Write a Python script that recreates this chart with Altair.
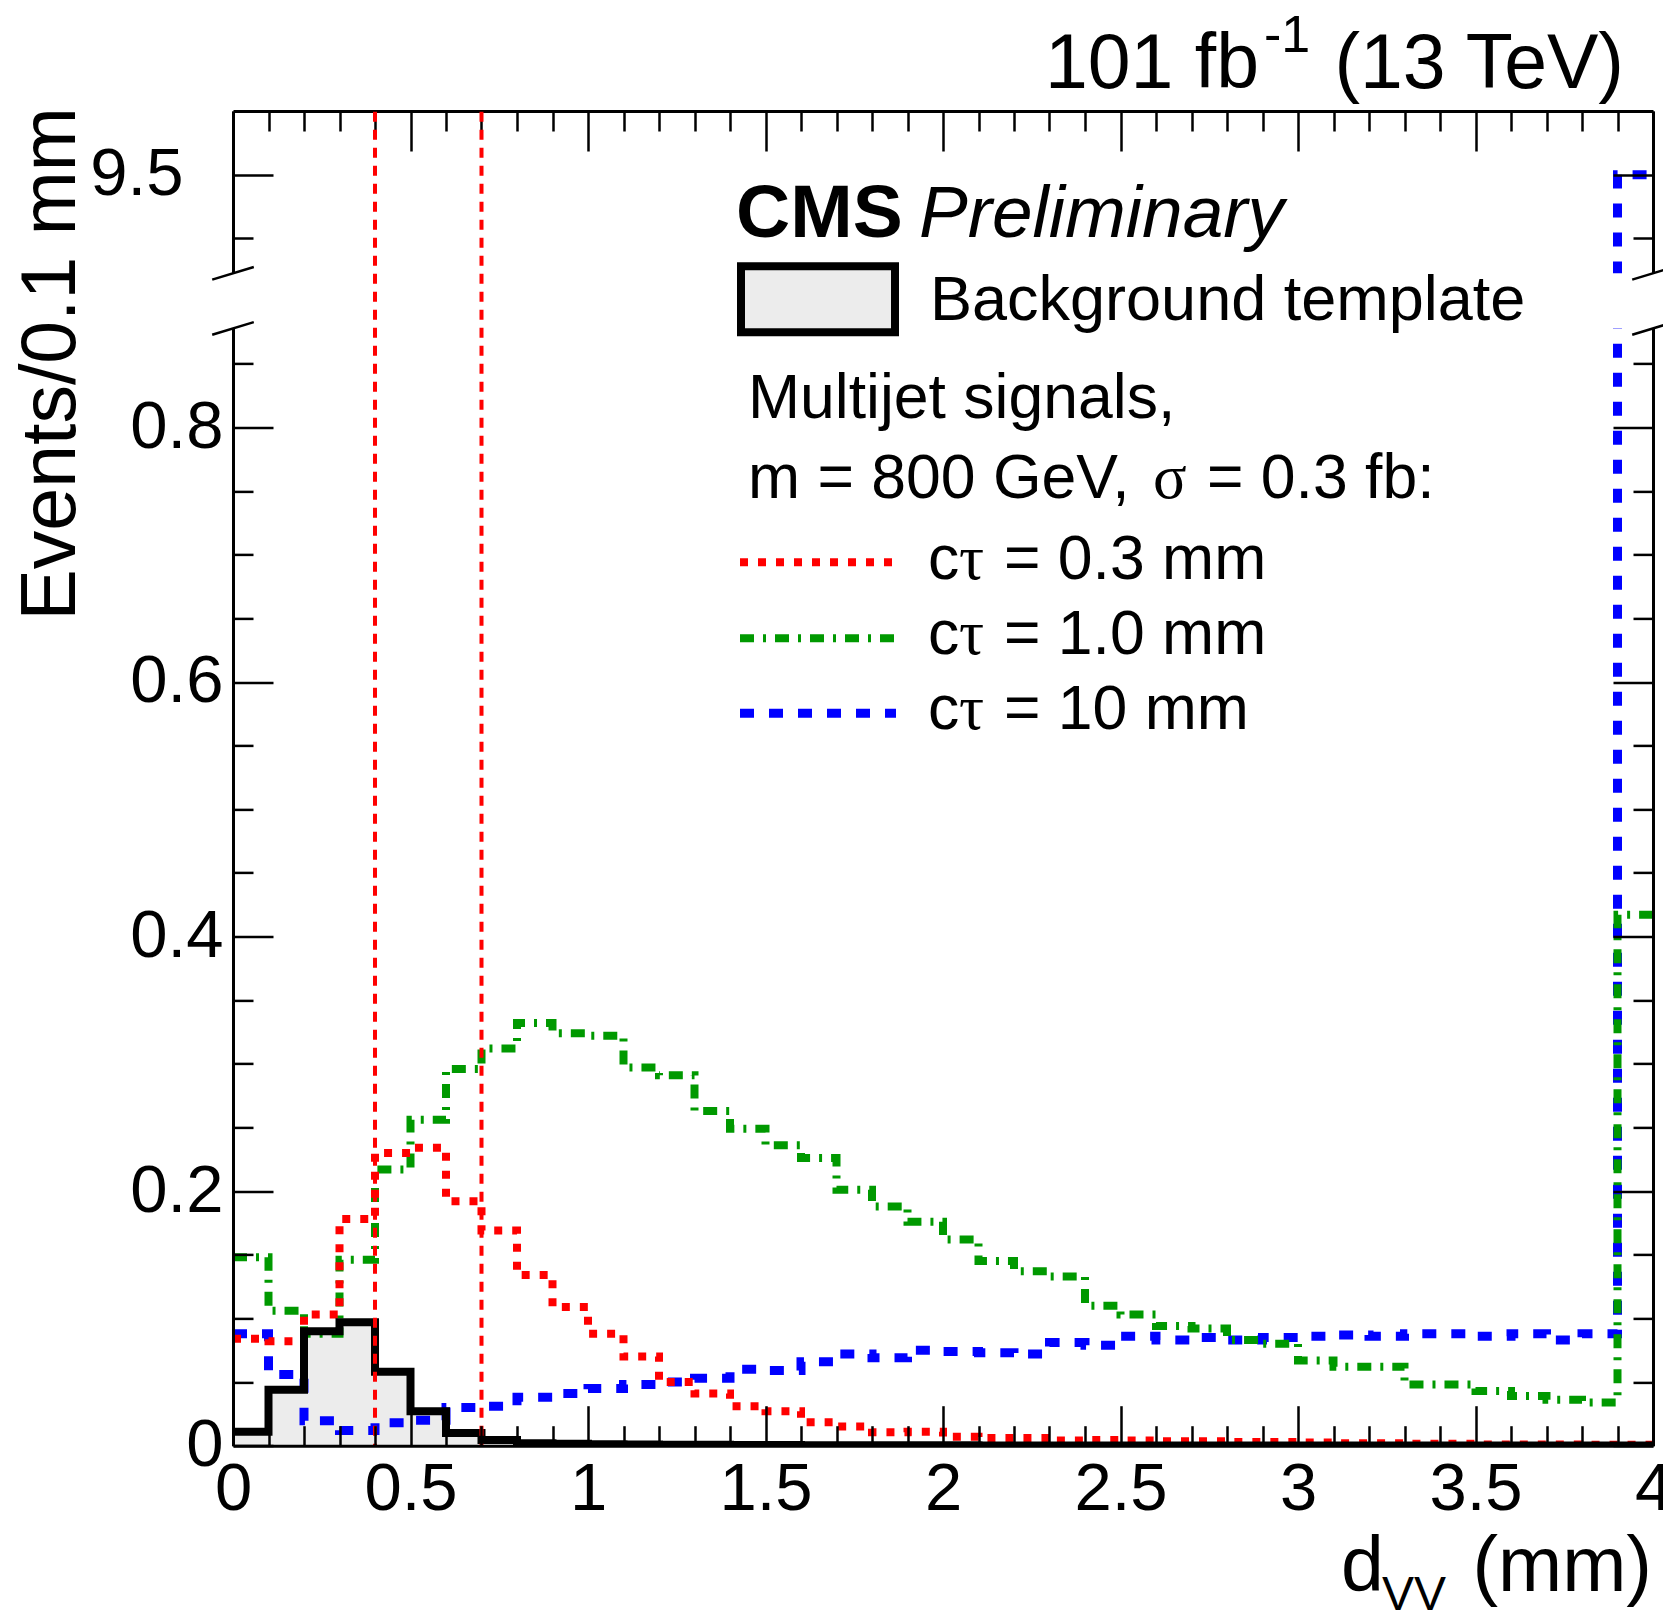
import altair as alt
import pandas as pd

# ---------------- data (events per 0.1 mm bin, 40 bins from 0 to 4 mm) ----------------
bin_edges = [round(0.1 * i, 1) for i in range(41)]

background = [0.011, 0.044, 0.090, 0.097, 0.058, 0.027, 0.010, 0.0045, 0.002, 0.0015,
              0.0012, 0.001, 0.0008, 0.0007, 0.0006, 0.0005, 0.0004, 0.0004, 0.0003, 0.0003,
              0.0003, 0.0002, 0.0002, 0.0002, 0.0002, 0.0002, 0.0001, 0.0001, 0.0001, 0.0001,
              0.0001, 0.0001, 0.0001, 0.0001, 0.0001, 0.0001, 0.0001, 0.0001, 0.0001, 0.0001]

ct_03mm = [0.084, 0.082, 0.103, 0.178, 0.230, 0.234, 0.192, 0.169, 0.134, 0.109,
           0.088, 0.070, 0.050, 0.041, 0.031, 0.027, 0.0185, 0.015, 0.0105, 0.011,
           0.0071, 0.006, 0.006, 0.004, 0.0045, 0.004, 0.0035, 0.0035, 0.003, 0.003,
           0.0025, 0.002, 0.002, 0.0015, 0.0015, 0.001, 0.001, 0.001, 0.0008, 0.0008]

ct_1mm = [0.148, 0.106, 0.088, 0.146, 0.217, 0.256, 0.296, 0.312, 0.332, 0.324,
          0.322, 0.297, 0.291, 0.263, 0.249, 0.236, 0.226, 0.201, 0.188, 0.176,
          0.162, 0.145, 0.137, 0.133, 0.110, 0.103, 0.094, 0.092, 0.083, 0.080,
          0.067, 0.062, 0.062, 0.048, 0.048, 0.043, 0.039, 0.036, 0.034, 0.417]

ct_10mm = [0.088, 0.056, 0.0196, 0.012, 0.018, 0.020, 0.030, 0.031, 0.038, 0.041,
           0.045, 0.048, 0.050, 0.053, 0.060, 0.059, 0.066, 0.072, 0.069, 0.075,
           0.074, 0.073, 0.072, 0.081, 0.079, 0.086, 0.083, 0.085, 0.083, 0.085,
           0.086, 0.087, 0.086, 0.088, 0.088, 0.086, 0.088, 0.083, 0.088, 9.5]

cut_lines = [0.4, 0.7]

x_major = [0, 0.5, 1, 1.5, 2, 2.5, 3, 3.5, 4]
x_minor = [round(0.1 * i, 1) for i in range(41) if i % 5 != 0]
ylow_major = [0, 0.2, 0.4, 0.6, 0.8]
ylow_minor = [0.05, 0.1, 0.15, 0.25, 0.3, 0.35, 0.45, 0.5, 0.55, 0.65, 0.7, 0.75, 0.85]
yup_major = [9.5]
yup_minor = [9.45]

# ---------------- layout ----------------
W = 1420
H_LOW = 1117.3
H_UP = 162.3
GAP = 54.4
FONT = "Liberation Sans"
SERIF = "Liberation Serif"
RED, GREEN, BLUE = "#ff0000", "#009900", "#0000ff"


def hist_df(values):
    rows = [{"x": bin_edges[i], "v": v} for i, v in enumerate(values)]
    rows.append({"x": bin_edges[-1], "v": values[-1]})
    return pd.DataFrame(rows)


bkg_df = hist_df(background)
red_df = hist_df(ct_03mm)
green_df = hist_df(ct_1mm)
blue_df = hist_df(ct_10mm)
cut_df = pd.DataFrame({"x": cut_lines})
one = pd.DataFrame({"k": [0]})

xscale = alt.Scale(domain=[0, 4], nice=False, zero=False)
ylow = alt.Scale(domain=[0, 0.8777], nice=False, zero=False)
yup = alt.Scale(domain=[9.4225, 9.55], nice=False, zero=False)


def tick_axis(orient, offset, values, size, domain=False):
    return alt.Axis(orient=orient, offset=offset, values=values, tickSize=size,
                    tickWidth=2.5, tickColor="black", ticks=True, labels=False,
                    domain=domain, domainColor="black", domainWidth=3,
                    grid=False, title=None, zindex=2)


def label_axis(orient, values, pad):
    return alt.Axis(orient=orient, values=values, ticks=False, labels=True,
                    labelFont=FONT, labelFontSize=67, labelColor="black",
                    labelPadding=pad, labelFlush=False, labelOverlap=False,
                    format="~g", domain=True, domainColor="black", domainWidth=3,
                    grid=False, title=None, zindex=2)


def guide(yscale, xaxis, yaxis):
    return alt.Chart(bkg_df).mark_line(opacity=0).encode(
        x=alt.X("x:Q", scale=xscale, axis=xaxis),
        y=alt.Y("v:Q", scale=yscale, axis=yaxis),
    )


def hist_line(df, yscale, color, width, dash=None):
    kw = dict(interpolate="step-after", color=color, strokeWidth=width,
              clip=True, strokeCap="butt")
    if dash:
        kw["strokeDash"] = dash
    return alt.Chart(df).mark_line(**kw).encode(
        x=alt.X("x:Q", scale=xscale, axis=None),
        y=alt.Y("v:Q", scale=yscale, axis=None),
    )


def txt(s, x, y, size, align="left", font=FONT, weight="normal", style="normal", angle=0):
    return alt.Chart(one).mark_text(
        text=s, align=align, baseline="alphabetic", font=font, fontSize=size,
        fontWeight=weight, fontStyle=style, angle=angle, color="black",
    ).encode(x=alt.value(x), y=alt.value(y))


def slash(xc, yc):
    return alt.Chart(one).mark_rule(color="black", strokeWidth=2.5).encode(
        x=alt.value(xc - 20.8), y=alt.value(yc + 6.3),
        x2=alt.value(xc + 20.8), y2=alt.value(yc - 6.3),
    )


def legend_line(y, color, width, dash):
    return alt.Chart(one).mark_rule(color=color, strokeWidth=width, strokeDash=dash,
                                    strokeCap="butt").encode(
        x=alt.value(507), x2=alt.value(663), y=alt.value(y)
    )


# ---------------- upper panel (broken axis, around 9.5) ----------------
upper = alt.layer(
    guide(yup, tick_axis("bottom", -H_UP, x_major, 40, domain=True), label_axis("left", yup_major, 50)),
    guide(yup, tick_axis("bottom", -H_UP, x_minor, 20), tick_axis("right", -W, yup_major, 40)),
    guide(yup, None, tick_axis("right", -W, yup_minor, 20)),
    guide(yup, None, tick_axis("left", -W, yup_major, 40, domain=True)),
    guide(yup, None, tick_axis("left", -W, yup_minor, 20)),
    hist_line(blue_df, yup, BLUE, 9, [14, 15]),
    slash(0, H_UP),
    slash(W, H_UP),
    # header
    txt("101 fb", 1026, -22.7, 77, align="right"),
    txt("-1", 1031, -58.7, 52),
    txt("(13 TeV)", 1391, -22.7, 77, align="right"),
    txt("Events/0.1 mm", -158, -4, 77, align="right", angle=270),
    txt("CMS", 503, 126.3, 75, weight="bold"),
    txt("Preliminary", 686, 126.3, 73, style="italic"),
    # legend
    alt.Chart(one).mark_rect(fill="#ececec", stroke="black", strokeWidth=8).encode(
        x=alt.value(508), x2=alt.value(662), y=alt.value(155.3), y2=alt.value(221.3)
    ),
    txt("Background template", 697, 209.3, 63),
    txt("Multijet signals,", 515, 307.3, 62.5),
    txt("m = 800 GeV,", 515, 387.3, 62.5),
    txt("σ", 920, 387.3, 62.5, font=SERIF),
    txt("= 0.3 fb:", 974, 387.3, 62.5),
    legend_line(451.3, RED, 8, [8, 10]),
    legend_line(527.3, GREEN, 8, [14, 9, 3, 9]),
    legend_line(602.3, BLUE, 9, [14, 15]),
    txt("c", 695, 468.3, 62.5), txt("τ", 726, 468.3, 62.5, font=SERIF), txt("= 0.3 mm", 771, 468.3, 62.5),
    txt("c", 695, 543.3, 62.5), txt("τ", 726, 543.3, 62.5, font=SERIF), txt("= 1.0 mm", 771, 543.3, 62.5),
    txt("c", 695, 618.3, 62.5), txt("τ", 726, 618.3, 62.5, font=SERIF), txt("= 10 mm", 771, 618.3, 62.5),
).resolve_axis(x="independent", y="independent").properties(width=W, height=H_UP)

# ---------------- lower panel (0 - 0.88) ----------------
lower = alt.layer(
    alt.Chart(bkg_df).mark_area(interpolate="step-after", color="#ececec", clip=True).encode(
        x=alt.X("x:Q", scale=xscale, axis=None),
        y=alt.Y("v:Q", scale=ylow, axis=None),
    ),
    guide(ylow, label_axis("bottom", x_major, 11), label_axis("left", ylow_major, 10)),
    guide(ylow, tick_axis("top", -H_LOW, x_major, 40), tick_axis("right", -W, ylow_major, 40)),
    guide(ylow, tick_axis("top", -H_LOW, x_minor, 20), tick_axis("right", -W, ylow_minor, 20)),
    guide(ylow, None, tick_axis("left", -W, ylow_major, 40, domain=True)),
    guide(ylow, None, tick_axis("left", -W, ylow_minor, 20)),
    hist_line(blue_df, ylow, BLUE, 9, [14, 15]),
    hist_line(green_df, ylow, GREEN, 8, [14, 9, 3, 9]),
    hist_line(red_df, ylow, RED, 8, [8, 10]),
    hist_line(bkg_df, ylow, "black", 8),
    alt.Chart(cut_df).mark_rule(color=RED, strokeWidth=4, strokeDash=[10, 8]).encode(
        x=alt.X("x:Q", scale=xscale, axis=None),
        y=alt.value(-(GAP + H_UP)), y2=alt.value(H_LOW),
    ),
    slash(0, 0),
    slash(W, 0),
    txt("d", 1108, 1262.8, 77),
    txt("VV", 1149, 1282, 48),
    txt("(mm)", 1419, 1262.8, 77, align="right"),
).resolve_axis(x="independent", y="independent").properties(width=W, height=H_LOW)

chart = alt.vconcat(upper, lower, spacing=GAP, bounds="flush").properties(
    padding={"left": 5, "top": 2, "right": -13, "bottom": -9}
).configure_view(stroke=None).configure_axis(grid=False)

chart.save("out.html", embed_options={"renderer": "svg", "actions": False})
